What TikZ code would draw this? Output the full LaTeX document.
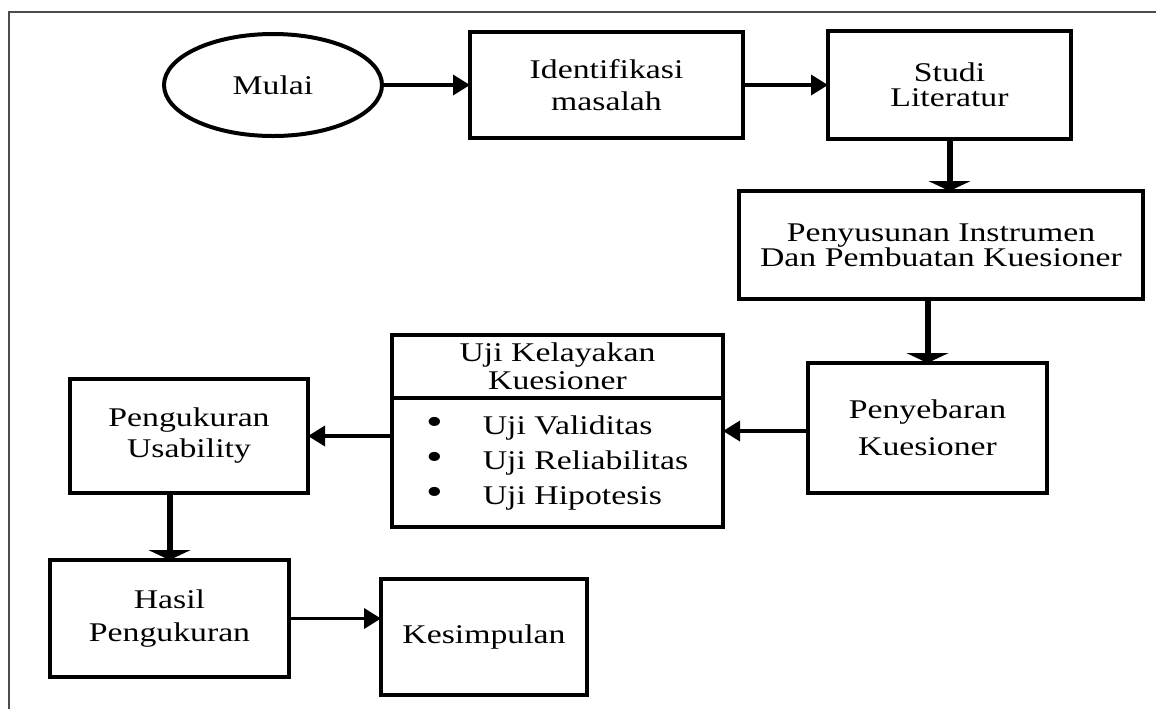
\documentclass[tikz,border=0pt]{standalone}
\usepackage{fontspec}
\setmainfont[FakeStretch=1.25]{Liberation Serif}
\usepackage{tikz}
\usetikzlibrary{positioning,arrows.meta,shapes.geometric}

\newcommand{\blt}{\makebox[28pt][l]{\fontsize{19}{16}\selectfont\textbullet}}

\tikzset{
  box/.style={draw, rectangle, line width=2pt, inner sep=0pt, outer sep=0pt, align=center},
  start/.style={draw, ellipse, line width=2pt, inner sep=0pt, outer sep=0pt, minimum width=109pt, minimum height=51pt},
  flow/.style={line width=1.8pt, -{Triangle[length=8.5pt,width=10pt]}},
  down/.style={line width=3pt, -{Triangle[length=5pt,width=21pt]}},
}

\begin{document}
\begin{tikzpicture}[x=0.5pt, y=-0.5pt, font=\fontsize{13.5}{16}\selectfont]

  \useasboundingbox (0,0) rectangle (1156,709);
  \draw[gray!60!black, line width=0.6pt] (9,709) -- (9,12) -- (1156,12);

  \node[start] (p0) at (273,85) {Mulai};
  \node[box, minimum width=136.5pt, minimum height=53pt] (p1) [right=44pt of p0] {Identifikasi\\masalah};
  \node[box, minimum width=121.5pt, minimum height=54pt] (p2) [right=42.5pt of p1] {Studi\\[-3.5pt]Literatur};
  \node[box, minimum width=202pt, minimum height=54pt] (p3) [below=26pt of p2, xshift=-4.25pt] {Penyusunan Instrumen\\[-3.5pt]Dan Pembuatan Kuesioner};
  \node[box, minimum width=119.5pt, minimum height=65pt] (p4) [below=32pt of p3, xshift=-6.75pt] {Penyebaran\\[2.5pt]Kuesioner};
  \node[box, minimum width=165.5pt, minimum height=96pt] (p5) [left=42.5pt of p4, yshift=-1.5pt] {};
  \node[inner sep=0pt, outer sep=0pt, minimum width=165.5pt, minimum height=31.5pt, align=center] (p5a) [below=0pt of p5.north] {Uji Kelayakan\\[-2pt]Kuesioner};
  \node[inner sep=0pt, minimum height=64.5pt, align=left] (p5b) [below=0pt of p5a] {\blt Uji Validitas\\[1.5pt]\blt Uji Reliabilitas\\[1.5pt]\blt Uji Hipotesis};
  \node[box, minimum width=119pt, minimum height=57pt] (p6) [left=42pt of p5, yshift=-2.5pt] {Pengukuran\\[-0.5pt]Usability};
  \node[box, minimum width=119.5pt, minimum height=58.5pt] (p7) [below=33.5pt of p6, xshift=-9.75pt] {Hasil\\[0.5pt]Pengukuran};
  \node[box, minimum width=103pt, minimum height=58pt] (p8) [right=46pt of p7, yshift=-9.25pt] {Kesimpulan};

  \draw[line width=2pt] (p5a.south west) -- (p5a.south east);

  \path[flow] (p0) edge (p1);
  \path[flow] (p1) edge (p2);
  \path[down] (p2) edge (p2 |- p3.north);
  \path[down] (p3.south -| p4) edge (p4);
  \path[flow] (p4.west |- p5) edge (p5);
  \path[flow] (p5.west |- p6) edge (p6);
  \path[down] (p6.south -| p7) edge (p7);
  \path[flow] (p7) edge (p7 -| p8.west);

\end{tikzpicture}
\end{document}
